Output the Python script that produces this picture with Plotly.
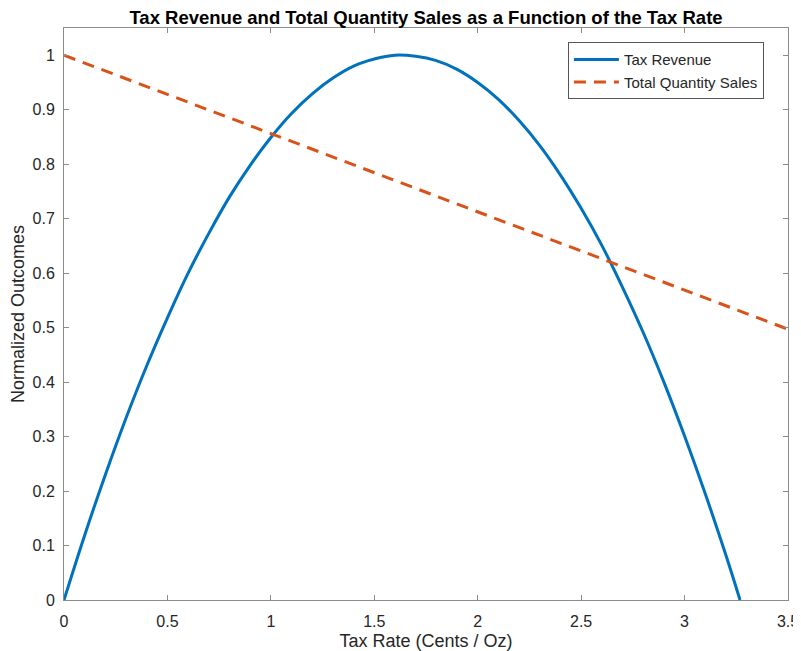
import plotly.graph_objects as go

tax_rate = [0.0, 0.1, 0.2, 0.3, 0.4, 0.5, 0.6, 0.7, 0.8, 0.9, 1.0, 1.1, 1.2, 1.3,
            1.4, 1.5, 1.6, 1.7, 1.8, 1.9, 2.0, 2.1, 2.2, 2.3, 2.4, 2.5, 2.6, 2.7,
            2.8, 2.9, 3.0, 3.1, 3.2, 3.268]
tax_revenue = [0.0, 0.119, 0.230, 0.334, 0.430, 0.518, 0.600, 0.673, 0.740, 0.798,
               0.849, 0.893, 0.929, 0.958, 0.980, 0.993, 1.000, 0.998, 0.990, 0.974,
               0.950, 0.919, 0.880, 0.834, 0.780, 0.719, 0.651, 0.574, 0.491, 0.400,
               0.301, 0.195, 0.082, 0.0]

qty_rate = [0.0, 3.5]
qty_sales = [1.0, 0.497]

x_ticks = [0, 0.5, 1, 1.5, 2, 2.5, 3, 3.5]
y_ticks = [0, 0.1, 0.2, 0.3, 0.4, 0.5, 0.6, 0.7, 0.8, 0.9, 1]

FONT = "Liberation Sans"

fig = go.Figure()
fig.add_trace(go.Scatter(x=tax_rate, y=tax_revenue, mode="lines", name="Tax Revenue",
                         line=dict(color="#0072BD", width=3), line_shape="spline"))
fig.add_trace(go.Scatter(x=qty_rate, y=qty_sales, mode="lines", name="Total Quantity Sales",
                         line=dict(color="#D95319", width=3, dash="12px,8px")))

axis_common = dict(showgrid=False, zeroline=False, showline=True, linecolor="#8c8c8c",
                   linewidth=1, mirror="ticks", ticks="inside", ticklen=5,
                   tickcolor="#8c8c8c", automargin=False,
                   tickfont=dict(family=FONT, size=16, color="#262626"))

fig.update_layout(
    width=793, height=643,
    margin=dict(l=56, r=13, t=20, b=51),
    paper_bgcolor="white", plot_bgcolor="white",
    title=dict(text="<b>Tax Revenue and Total Quantity Sales as a Function of the Tax Rate</b>",
               xref="paper", x=0.5, xanchor="center", y=0.985, yanchor="middle",
               font=dict(family=FONT, size=18.5, color="black")),
    xaxis=dict(range=[0, 3.5], tickvals=x_ticks, ticktext=[f"{v:g}" for v in x_ticks],
               ticklabelstandoff=7,
               title=dict(text="Tax Rate (Cents / Oz)", standoff=5,
                          font=dict(family=FONT, size=18, color="#262626")),
               **axis_common),
    yaxis=dict(range=[0, 1.05], tickvals=y_ticks, ticktext=[f"{v:g}" for v in y_ticks],
               ticklabelstandoff=5,
               title=dict(text="Normalized Outcomes", standoff=4,
                          font=dict(family=FONT, size=18, color="#262626")),
               **axis_common),
    legend=dict(x=0.696, y=0.975, xanchor="left", yanchor="top",
                bgcolor="white", bordercolor="#555555", borderwidth=1,
                font=dict(family=FONT, size=15, color="#262626"),
                itemwidth=45, tracegroupgap=0),
    showlegend=True,
)

fig.write_html("out.html")
